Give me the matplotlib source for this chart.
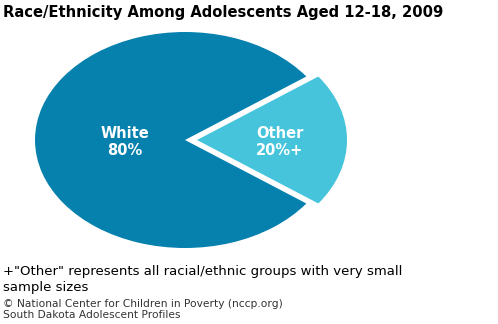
import matplotlib
matplotlib.use("Agg")
import matplotlib.pyplot as plt

# data
labels = ["White", "Other"]
values = [80, 20]
pct_labels = ["80%", "20%+"]
colors = ["#0681ae", "#45c4dc"]

title = "Race/Ethnicity Among Adolescents Aged 12-18, 2009"
note = "+\"Other\" represents all racial/ethnic groups with very small\nsample sizes"
source = "\u00a9 National Center for Children in Poverty (nccp.org)\nSouth Dakota Adolescent Profiles"

fig = plt.figure(figsize=(4.98, 3.24), dpi=100)
W, H = 498, 324

# axes placed in pixel terms: pie centre ~ (185,140), rx ~150, ry ~108
ax = fig.add_axes([20 / W, (H - 260) / H, 330 / W, 240 / H])
ax.axis("off")

# White runs counterclockwise from 36 deg, Other sits on the right
wedges, _ = ax.pie(values, colors=colors, startangle=36, counterclock=True,
                   explode=[0, 0.08], radius=1, center=(0, 0),
                   wedgeprops=dict(linewidth=0))
ax.set_aspect("auto")
ax.set_xlim(-1.1, 1.1)
ax.set_ylim(-120 / 108, 120 / 108)

# slice labels
ax.text(-0.40, -0.02, labels[0] + "\n" + pct_labels[0], color="white", fontsize=10.5,
        fontweight="bold", ha="center", va="center", linespacing=1.2)
ax.text(0.63, -0.02, labels[1] + "\n" + pct_labels[1], color="white", fontsize=10.5,
        fontweight="bold", ha="center", va="center", linespacing=1.2)

fig.text(3 / W, 1 - 12 / H, title, fontsize=10.6, fontweight="bold", ha="left", va="center")
fig.text(3 / W, 1 - 279.5 / H, note, fontsize=9.5, ha="left", va="center", linespacing=1.3)
fig.text(3 / W, 1 - 309.5 / H, source, fontsize=7.7, ha="left", va="center",
         color="#333333", linespacing=1.2)

fig.savefig("out.png", dpi=100)
